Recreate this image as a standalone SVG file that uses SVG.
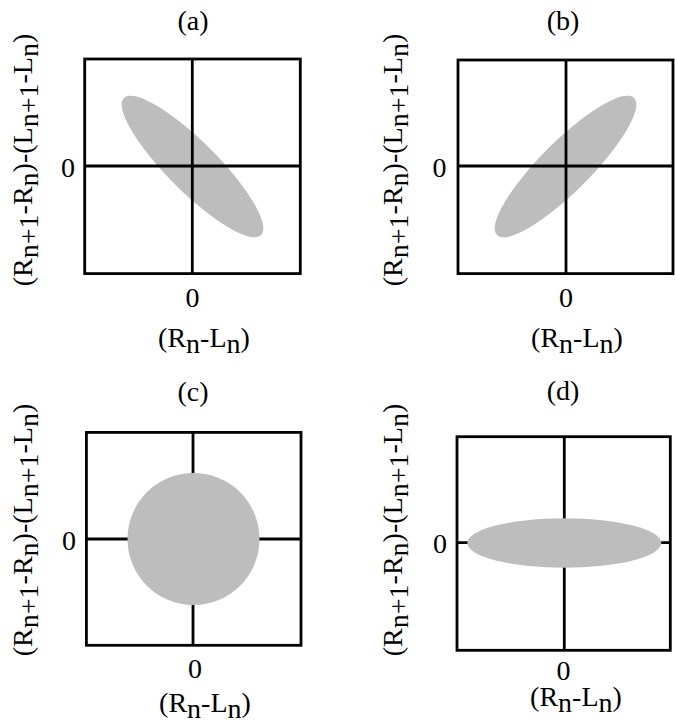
<svg xmlns="http://www.w3.org/2000/svg" width="675" height="725" viewBox="0 0 675 725">
<style>
text{font-family:"Liberation Serif","Times New Roman",serif;font-size:28px;fill:#000}
.t{text-anchor:middle}
.box{fill:none;stroke:#000;stroke-width:2.8}
.ax{stroke:#000;stroke-width:2.8}
.blob{fill:#bdbdbd}
</style>
<rect width="675" height="725" fill="#fff"/>
<g id="panel-a">
<text class="t" x="193" y="30">(a)</text>
<ellipse class="blob" cx="192.5" cy="166.5" rx="97" ry="25" transform="rotate(45 192.5 166.5)"/>
<rect class="box" x="84.7" y="59" width="215.6" height="214.6"/>
<line class="ax" x1="84.7" y1="166" x2="300.3" y2="166"/>
<line class="ax" x1="192.3" y1="59" x2="192.3" y2="273.6"/>
<text class="t" x="192.6" y="306.5">0</text>
<text class="t" x="68" y="176.5">0</text>
<text class="t" x="204" y="347">(R<tspan dy="6">n</tspan><tspan dy="-6">-L</tspan><tspan dy="6">n</tspan><tspan dy="-6">)</tspan></text>
<text class="t" transform="translate(32,160) rotate(-90)">(R<tspan dy="6">n+1</tspan><tspan dy="-6">-R</tspan><tspan dy="6">n</tspan><tspan dy="-6">)-(L</tspan><tspan dy="6">n+1</tspan><tspan dy="-6">-L</tspan><tspan dy="6">n</tspan><tspan dy="-6">)</tspan></text>
</g>
<g id="panel-b">
<text class="t" x="563" y="30">(b)</text>
<ellipse class="blob" cx="565.5" cy="166.5" rx="97" ry="25" transform="rotate(-45 565.5 166.5)"/>
<rect class="box" x="458" y="60" width="215" height="213.6"/>
<line class="ax" x1="458" y1="166" x2="673" y2="166"/>
<line class="ax" x1="566" y1="60" x2="566" y2="273.6"/>
<text class="t" x="566" y="306.5">0</text>
<text class="t" x="439.5" y="176.5">0</text>
<text class="t" x="577" y="347">(R<tspan dy="6">n</tspan><tspan dy="-6">-L</tspan><tspan dy="6">n</tspan><tspan dy="-6">)</tspan></text>
<text class="t" transform="translate(401.5,160) rotate(-90)">(R<tspan dy="6">n+1</tspan><tspan dy="-6">-R</tspan><tspan dy="6">n</tspan><tspan dy="-6">)-(L</tspan><tspan dy="6">n+1</tspan><tspan dy="-6">-L</tspan><tspan dy="6">n</tspan><tspan dy="-6">)</tspan></text>
</g>
<g id="panel-c">
<text class="t" x="193" y="401">(c)</text>
<rect class="box" x="86.4" y="432.4" width="214.6" height="212.9"/>
<line class="ax" x1="86.4" y1="539" x2="301" y2="539"/>
<line class="ax" x1="193" y1="432.4" x2="193" y2="645.3"/>
<circle class="blob" cx="193.5" cy="539" r="66"/>
<text class="t" x="195" y="678">0</text>
<text class="t" x="69" y="549.5">0</text>
<text class="t" x="205" y="712">(R<tspan dy="6">n</tspan><tspan dy="-6">-L</tspan><tspan dy="6">n</tspan><tspan dy="-6">)</tspan></text>
<text class="t" transform="translate(32,530) rotate(-90)">(R<tspan dy="6">n+1</tspan><tspan dy="-6">-R</tspan><tspan dy="6">n</tspan><tspan dy="-6">)-(L</tspan><tspan dy="6">n+1</tspan><tspan dy="-6">-L</tspan><tspan dy="6">n</tspan><tspan dy="-6">)</tspan></text>
</g>
<g id="panel-d">
<text class="t" x="563" y="400">(d)</text>
<rect class="box" x="457" y="436.7" width="213.3" height="213.6"/>
<line class="ax" x1="457" y1="542.7" x2="670.3" y2="542.7"/>
<line class="ax" x1="564.3" y1="436.7" x2="564.3" y2="650.3"/>
<ellipse class="blob" cx="564.3" cy="543" rx="97" ry="24.7"/>
<text class="t" x="563.5" y="680">0</text>
<text class="t" x="440" y="553">0</text>
<text class="t" x="576" y="706">(R<tspan dy="6">n</tspan><tspan dy="-6">-L</tspan><tspan dy="6">n</tspan><tspan dy="-6">)</tspan></text>
<text class="t" transform="translate(401.5,530) rotate(-90)">(R<tspan dy="6">n+1</tspan><tspan dy="-6">-R</tspan><tspan dy="6">n</tspan><tspan dy="-6">)-(L</tspan><tspan dy="6">n+1</tspan><tspan dy="-6">-L</tspan><tspan dy="6">n</tspan><tspan dy="-6">)</tspan></text>
</g>
<g id="connectors"></g>
</svg>
